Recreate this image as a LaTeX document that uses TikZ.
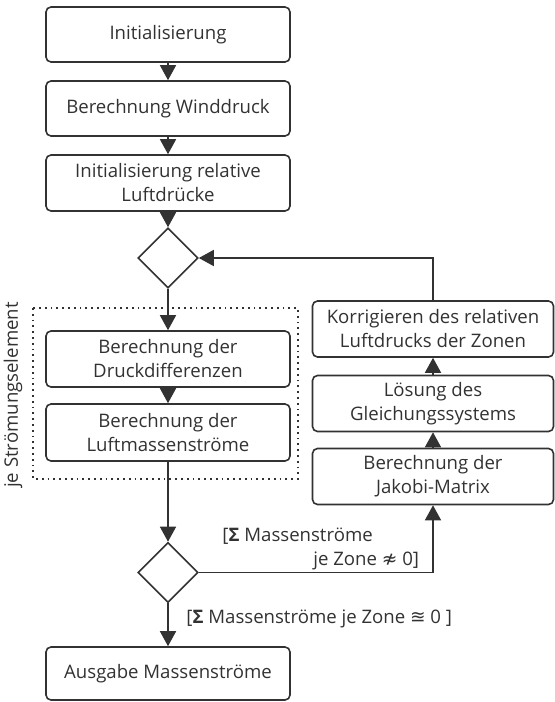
\documentclass[tikz,border=0pt]{standalone}
\usepackage{fontspec}
\setmainfont{Open Sans}
\newfontfamily\symfont{DejaVu Sans}
\usetikzlibrary{arrows.meta,shapes.geometric,positioning,calc}
\definecolor{linegray}{RGB}{50,50,50}

\begin{document}
\begin{tikzpicture}[
    x=0.5pt, y=-0.5pt,
    font=\fontsize{9.3}{12}\selectfont, text=linegray,
    stepbox/.style={rectangle, rounded corners=2.5pt, draw=linegray, line width=0.8pt,
                    minimum width=122pt, minimum height=28pt, align=center, inner sep=1pt},
    decision/.style={diamond, draw=linegray, line width=0.8pt,
                     minimum width=30pt, minimum height=30pt, inner sep=0pt},
    flow/.style={-{Triangle[width=8pt,length=7.5pt]}, draw=linegray, line width=0.8pt},
    guard/.style={inner sep=0pt, align=left}
]
    \useasboundingbox (0,0) rectangle (554,702);

    % Main sequence
    \node[stepbox, minimum height=27.5pt] (init) at (168,34.5) {Initialisierung};
    \node[stepbox, minimum height=27.5pt] (wind) at (168,108.5) {Berechnung Winddruck};
    \node[stepbox] (relinit) at (168,183) {Initialisierung relative\\Luftdrücke};
    \node[decision] (loop) at (168,258) {};
    \node[stepbox] (druck) at (168,359) {Berechnung der\\Druckdifferenzen};
    \node[stepbox, minimum height=28.5pt] (luft) at (168,432.5) {Berechnung der\\Luftmassenströme};
    \node[decision] (check) at (168,572.5) {};
    \node[stepbox, minimum height=26.5pt] (ausgabe) at (168,673.5) {Ausgabe Massenströme};

    % Flow element group
    \draw[dotted, line width=0.9pt, draw=linegray] (33,308) rectangle (298,479);
    \node[rotate=90] (element) at (13,395) {je Strömungselement};

    % Correction loop
    \node[stepbox, minimum width=120.5pt] (korr) at (433,329) {Korrigieren des relativen\\Luftdrucks der Zonen};
    \node[stepbox, minimum width=120.5pt] (loes) at (433,403.5) {Lösung des\\Gleichungssystems};
    \node[stepbox, minimum width=120.5pt] (jakobi) at (433,476.5) {Berechnung der\\Jakobi-Matrix};

    % Guards
    \node[guard, anchor=west] (neq) at (222,549)
        {[\textbf{Σ} Massenströme\\\hspace*{45.5pt}je Zone {\symfont ≉} 0]};
    \node[guard, anchor=west] (eq) at (186,619)
        {[\textbf{Σ} Massenströme je Zone {\symfont ≊} 0 ]};

    % Connectors
    \draw[flow] (init) -- (wind);
    \draw[flow] (wind) -- (relinit);
    \draw[flow] (relinit) -- (loop);
    \draw[flow] (loop) -- (druck);
    \draw[flow] (druck) -- (luft);
    \draw[flow] (luft) -- (check);
    \draw[flow] (check) -- (ausgabe);
    \draw[flow] (check.east) -| (jakobi.south);
    \draw[flow] (jakobi) -- (loes);
    \draw[flow] (loes) -- (korr);
    \draw[flow] (korr.north) |- (loop.east);
\end{tikzpicture}
\end{document}
